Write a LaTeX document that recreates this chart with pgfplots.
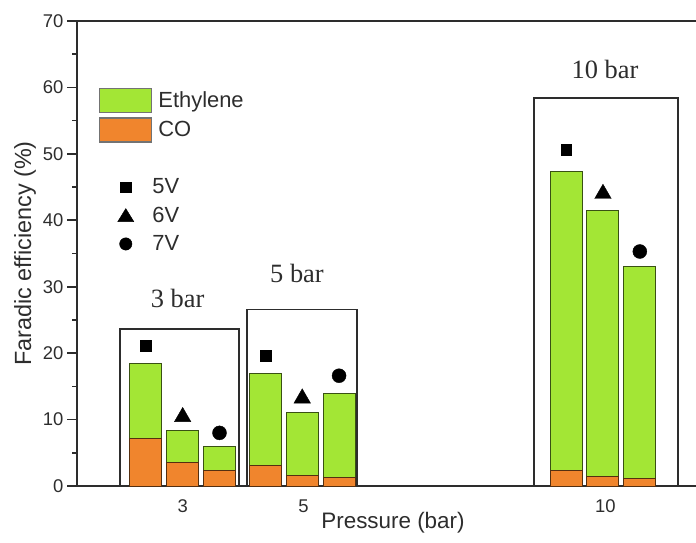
\documentclass[border=0pt]{standalone}
\usepackage{pgfplots}
\pgfplotsset{compat=1.18}
\usepackage{fontspec}
\setmainfont{Liberation Sans}
\newfontfamily\seriffont{Liberation Serif}
\definecolor{ethgreen}{RGB}{163,230,53}
\definecolor{coorange}{RGB}{240,133,45}
\definecolor{axgray}{RGB}{45,45,45}

\begin{document}
\begin{tikzpicture}
\path[use as bounding box] (-77bp,-57bp) rectangle (619bp,486bp);
\begin{axis}[
  at={(0,0)}, anchor=south west,
  scale only axis, width=625bp, height=465bp,
  xmin=1.25, xmax=11.6, ymin=0, ymax=70,
  clip=false,
  axis line style={axgray, line width=1.8bp},
  xtick={3,5,10}, xticklabels={3,5,10},
  major x tick style={line width=0pt, draw=none},
  ytick={0,10,...,70}, minor y tick num=1,
  ytick pos=left, xtick pos=bottom, tick align=outside,
  major tick length=10bp, minor tick length=5bp,
  major y tick style={draw=axgray, line width=1.6bp},
  minor y tick style={draw=axgray, line width=1.6bp},
  /pgf/number format/assume math mode=true,
  ticklabel style={font=\fontsize{18.5}{21}\selectfont, text=axgray},
  xlabel={Pressure (bar)},
  ylabel={Faradic efficiency (\%)},
  xlabel style={font=\fontsize{22.5}{25}\selectfont, text=axgray, at={(axis description cs:0.5056,-0.078)}, anchor=center},
  ylabel style={font=\fontsize{23.5}{26}\selectfont, text=axgray, at={(axis description cs:-0.0832,0.5)}, anchor=center},
  legend style={at={(axis description cs:0.0352,0.856)}, anchor=north west, draw=none, fill=none,
    inner sep=0pt, row sep=4bp, column sep=4bp,
    font=\fontsize{22}{24}\selectfont,
    nodes={inner sep=2bp, text=axgray}},
  legend cell align=left,
]
% legend entries
\addlegendimage{legend image code/.code={\draw[fill=ethgreen, draw=black!55, line width=1.2bp] (-26bp,-12bp) rectangle (26bp,12bp);}}
\addlegendentry{Ethylene}
\addlegendimage{legend image code/.code={\draw[fill=coorange, draw=black!55, line width=1.2bp] (-26bp,-12bp) rectangle (26bp,12bp);}}
\addlegendentry{CO}
\addlegendimage{legend image code/.code={\path (-26bp,-12bp) (26bp,12bp);}}
\addlegendentry{\phantom{X}}
\addlegendimage{legend image code/.code={\path (-26bp,-12bp) (26bp,12bp); \fill[black] (-5.3bp,-5.3bp) rectangle (5.3bp,5.3bp);}}
\addlegendentry{\hspace*{-6bp}5V}
\addlegendimage{legend image code/.code={\path (-26bp,-12bp) (26bp,12bp); \fill[black] (0,7bp) -- (-8bp,-6bp) -- (8bp,-6bp) -- cycle;}}
\addlegendentry{\hspace*{-6bp}6V}
\addlegendimage{legend image code/.code={\path (-26bp,-12bp) (26bp,12bp); \fill[black] (0,0) circle (6.2bp);}}
\addlegendentry{\hspace*{-6bp}7V}

% group boxes
\addplot[axgray, line width=1.5bp, forget plot] coordinates {(1.962,0) (1.962,23.6) (3.932,23.6) (3.932,0)};
\addplot[axgray, line width=1.5bp, forget plot] coordinates {(4.065,0) (4.065,26.6) (5.886,26.6) (5.886,0)};
\addplot[axgray, line width=1.5bp, forget plot] coordinates {(8.817,0) (8.817,58.4) (11.2,58.4) (11.2,0)};

% total (ethylene + CO)
\addplot[ybar, bar width=0.53, bar shift=0pt, fill=ethgreen, draw=ethgreen!35!black, line width=1bp, forget plot]
  coordinates {(2.39,18.5) (3.0,8.3) (3.61,5.9) (4.37,17.0) (4.98,11.0) (5.59,14.0) (9.35,47.3) (9.96,41.4) (10.57,33.1)};
% CO
\addplot[ybar, bar width=0.53, bar shift=0pt, fill=coorange, draw=coorange!35!black, line width=1bp, forget plot]
  coordinates {(2.39,7.1) (3.0,3.6) (3.61,2.4) (4.37,3.05) (4.98,1.65) (5.59,1.25) (9.35,2.26) (9.96,1.4) (10.57,1.2)};

% markers
\addplot[only marks, mark=square*, mark size=5.4bp, black, forget plot]
  coordinates {(2.39,21.1) (4.37,19.6) (9.35,50.6)};
\addplot[only marks, mark=triangle*, mark size=9.5bp, black, forget plot]
  coordinates {(3.0,10.4) (4.98,13.2) (9.96,44.0)};
\addplot[only marks, mark=*, mark size=7bp, black, forget plot]
  coordinates {(3.61,8.0) (5.59,16.6) (10.57,35.3)};

\node[font=\seriffont\fontsize{26.5}{28}\selectfont, anchor=base, text=axgray] at (axis cs:2.917,26.9) {3 bar};
\node[font=\seriffont\fontsize{26.5}{28}\selectfont, anchor=base, text=axgray] at (axis cs:4.893,30.6) {5 bar};
\node[font=\seriffont\fontsize{26.5}{28}\selectfont, anchor=base, text=axgray] at (axis cs:9.993,61.4) {10 bar};
\end{axis}
\end{tikzpicture}
\end{document}
